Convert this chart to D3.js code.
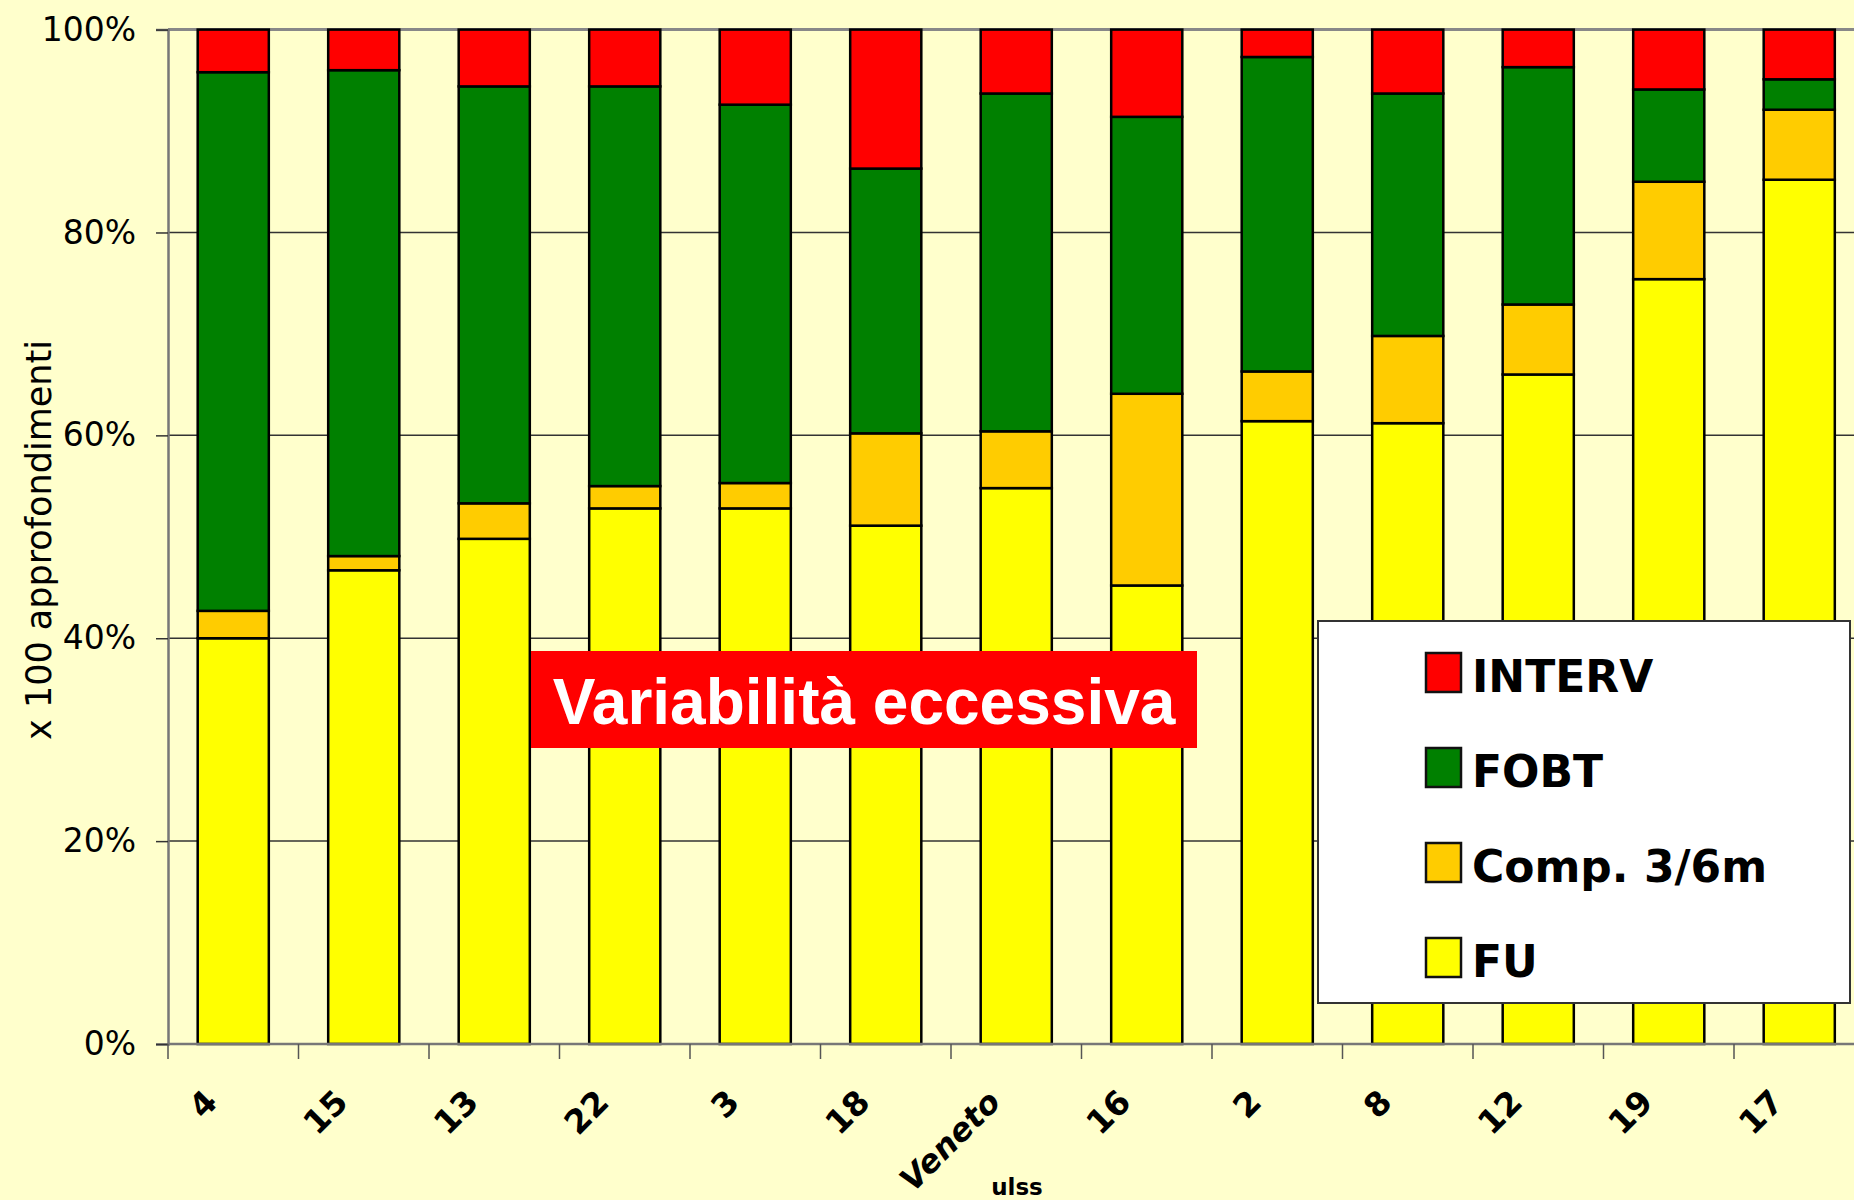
<!DOCTYPE html>
<html>
<head>
<meta charset="utf-8">
<script src="https://cdn.jsdelivr.net/npm/d3@7"></script>
<style>
  body { margin: 0; background: #FFFFCC; }
  svg { display: block; }
</style>
</head>
<body>
<script>
// ulss categories (x axis)
const categories = ["4", "15", "13", "22", "3", "18", "Veneto", "16", "2", "8", "12", "19", "17"];

// share of follow-ups per category, in %, bottom to top
const fu     = [40.0, 46.7, 49.8, 52.8, 52.8, 51.1, 54.8, 45.2, 61.4, 61.2, 66.0, 75.4, 85.2];
const comp   = [2.7, 1.4, 3.5, 2.2, 2.5, 9.1, 5.6, 18.9, 4.9, 8.6, 6.9, 9.6, 6.9];
const fobt   = [53.1, 47.9, 41.1, 39.4, 37.3, 26.1, 33.3, 27.3, 31.0, 23.9, 23.4, 9.1, 3.0];
const interv = [4.2, 4.0, 5.6, 5.6, 7.4, 13.7, 6.3, 8.6, 2.7, 6.3, 3.7, 5.9, 4.9];

const seriesKeys = ["FU", "Comp", "FOBT", "INTERV"];
const legendLabels = { INTERV: "INTERV", FOBT: "FOBT", Comp: "Comp. 3/6m", FU: "FU" };
const yTicks = [0, 20, 40, 60, 80, 100];

const colors = { FU: "#FFFF00", Comp: "#FFCC00", FOBT: "#008000", INTERV: "#FF0000" };

// build rows for d3.stack
const table = categories.map((c, i) => ({
    cat: c, FU: fu[i], Comp: comp[i], FOBT: fobt[i], INTERV: interv[i]
}));

const W = 1854, H = 1200;
const plotLeft = 168, plotRight = 1864.5, plotTop = 29.6, plotBottom = 1044;
const comic = "'Comic Sans MS', 'DejaVu Sans', sans-serif";

const svg = d3.select("body").append("svg").attr("width", W).attr("height", H);
svg.append("rect").attr("width", W).attr("height", H).attr("fill", "#FFFFCC");

const x = d3.scaleBand()
    .domain(categories)
    .range([plotLeft, plotRight])
    .paddingInner(0.455)
    .paddingOuter(0.2275);

const y = d3.scaleLinear().domain([0, 100]).range([plotBottom, plotTop]);

// gridlines
svg.append("g")
    .selectAll("line")
    .data(yTicks.filter(t => t > 0))
    .enter()
    .append("line")
    .attr("x1", plotLeft).attr("x2", W)
    .attr("y1", d => y(d)).attr("y2", d => y(d))
    .attr("stroke", d => d === 100 ? "#888" : "#333")
    .attr("stroke-width", d => d === 100 ? 3 : 1.5);

// stacked bars
const stacked = d3.stack().keys(seriesKeys)(table);
svg.append("g")
    .selectAll("g")
    .data(stacked)
    .enter()
    .append("g")
    .attr("fill", d => colors[d.key])
    .selectAll("rect")
    .data(d => d)
    .enter()
    .append("rect")
    .attr("x", d => x(d.data.cat))
    .attr("y", d => y(d[1]))
    .attr("width", x.bandwidth())
    .attr("height", d => y(d[0]) - y(d[1]))
    .attr("stroke", "#000")
    .attr("stroke-width", 2.5);

// y axis
const yAxis = svg.append("g")
    .attr("transform", `translate(${plotLeft},0)`)
    .call(d3.axisLeft(y).tickValues(yTicks).tickFormat(d => d + "%").tickSize(12).tickPadding(20));
yAxis.select(".domain").attr("stroke", "#777").attr("stroke-width", 2.5);
yAxis.selectAll(".tick line").attr("stroke", "#333").attr("stroke-width", 1.5);
yAxis.selectAll("text")
    .attr("font-family", comic)
    .attr("font-size", 33)
    .attr("fill", "#000");

// x axis baseline and boundary ticks
const step = x.step();
const boundaries = categories.map(c => x(c) - step * x.paddingInner() / 2);
svg.append("line")
    .attr("x1", plotLeft).attr("x2", W)
    .attr("y1", plotBottom).attr("y2", plotBottom)
    .attr("stroke", "#777").attr("stroke-width", 2.5);
svg.append("g")
    .selectAll("line")
    .data(boundaries)
    .enter()
    .append("line")
    .attr("x1", d => d).attr("x2", d => d)
    .attr("y1", plotBottom).attr("y2", plotBottom + 15)
    .attr("stroke", "#555").attr("stroke-width", 1.5);

// rotated category labels
svg.append("g")
    .selectAll("text")
    .data(categories)
    .enter()
    .append("text")
    .attr("transform", d => `translate(${x(d) + x.bandwidth() / 2 - 14},${1104}) rotate(-45)`)
    .attr("text-anchor", "end")
    .attr("font-family", comic)
    .attr("font-weight", "bold")
    .attr("font-style", d => d === "Veneto" ? "italic" : "normal")
    .attr("font-size", d => d === "Veneto" ? 32 : 33)
    .attr("fill", "#000")
    .text(d => d);

// x axis title
svg.append("text")
    .attr("x", 1017).attr("y", 1195)
    .attr("text-anchor", "middle")
    .attr("font-family", comic)
    .attr("font-weight", "bold")
    .attr("font-size", 23)
    .text("ulss");

// y axis title
svg.append("text")
    .attr("transform", "translate(51,540) rotate(-90)")
    .attr("text-anchor", "middle")
    .attr("font-family", comic)
    .attr("font-size", 35)
    .text("x 100 approfondimenti");

// annotation
svg.append("rect")
    .attr("x", 531).attr("y", 651)
    .attr("width", 666).attr("height", 97)
    .attr("fill", "#FF0000");
svg.append("text")
    .attr("x", 864).attr("y", 724)
    .attr("text-anchor", "middle")
    .attr("font-family", "'Liberation Sans', Arial, sans-serif")
    .attr("font-weight", "bold")
    .attr("font-size", 64)
    .attr("fill", "#fff")
    .text("Variabilità eccessiva");

// legend
const legend = svg.append("g");
legend.append("rect")
    .attr("x", 1318).attr("y", 621)
    .attr("width", 532).attr("height", 382)
    .attr("fill", "#fff")
    .attr("stroke", "#333").attr("stroke-width", 2);

const legendKeys = ["INTERV", "FOBT", "Comp", "FU"];
const rows = legend.selectAll("g.row")
    .data(legendKeys)
    .enter()
    .append("g")
    .attr("class", "row")
    .attr("transform", (d, i) => `translate(1426,${692 + i * 95})`);
rows.append("rect")
    .attr("x", 0).attr("y", -39)
    .attr("width", 35).attr("height", 39)
    .attr("fill", d => colors[d])
    .attr("stroke", "#111").attr("stroke-width", 2.5);
rows.append("text")
    .attr("x", 46).attr("y", 0)
    .attr("font-family", comic)
    .attr("font-weight", "bold")
    .attr("font-size", 44)
    .attr("fill", "#000")
    .text(d => legendLabels[d]);
</script>
</body>
</html>
